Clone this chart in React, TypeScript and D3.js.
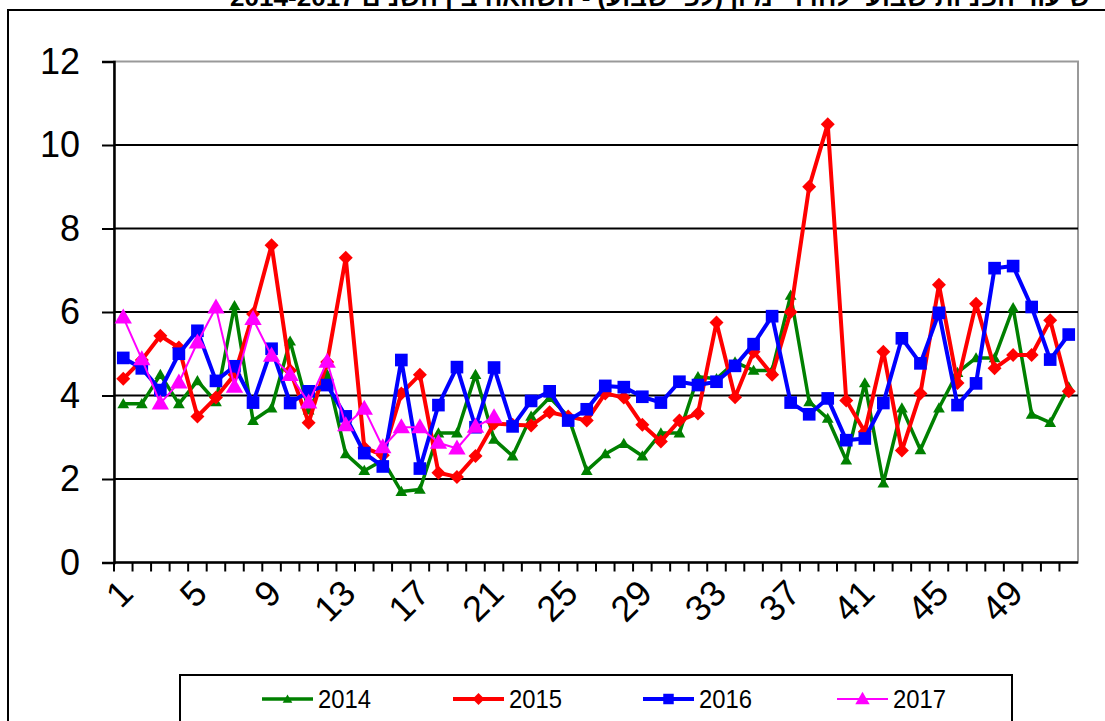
import React, { useEffect, useRef } from "react";
import * as d3 from "d3";

const weeks = d3.range(1, 53);
const yTicks = [0, 2, 4, 6, 8, 10, 12];
const xLabels = [1, 5, 9, 13, 17, 21, 25, 29, 33, 37, 41, 45, 49];

const y2014 = [3.8, 3.8, 4.5, 3.8, 4.35, 3.85, 6.15, 3.4, 3.7, 5.3, 3.65, 4.5, 2.6, 2.2, 2.45, 1.7, 1.75, 3.1, 3.1, 4.5, 2.95, 2.55, 3.5, 3.95, 3.5, 2.2, 2.6, 2.85, 2.55, 3.1, 3.1, 4.45, 4.4, 4.8, 4.6, 4.6, 6.4, 3.85, 3.45, 2.45, 4.3, 1.9, 3.7, 2.7, 3.7, 4.55, 4.9, 4.9, 6.1, 3.55, 3.35, 4.2];
const y2015 = [4.4, 4.85, 5.43, 5.15, 3.5, 3.95, 4.5, 5.95, 7.6, 4.6, 3.35, 4.8, 7.3, 2.75, 2.57, 4.05, 4.5, 2.15, 2.05, 2.55, 3.33, 3.3, 3.28, 3.6, 3.5, 3.4, 4.05, 3.95, 3.3, 2.9, 3.4, 3.57, 5.75, 3.96, 5.05, 4.5, 6.0, 9.0, 10.5, 3.88, 3.13, 5.05, 2.68, 4.05, 6.65, 4.3, 6.2, 4.65, 4.97, 4.97, 5.8, 4.1];
const y2016 = [4.9, 4.65, 4.13, 5.0, 5.55, 4.35, 4.7, 3.83, 5.12, 3.82, 4.1, 4.25, 3.5, 2.62, 2.3, 4.85, 2.25, 3.77, 4.68, 3.24, 4.67, 3.26, 3.87, 4.1, 3.4, 3.67, 4.23, 4.2, 3.97, 3.83, 4.33, 4.25, 4.33, 4.71, 5.23, 5.9, 3.83, 3.55, 3.93, 2.93, 2.97, 3.82, 5.37, 4.77, 5.98, 3.77, 4.29, 7.05, 7.1, 6.12, 4.86, 5.46];
const y2017 = [5.87, 4.87, 3.81, 4.31, 5.27, 6.11, 4.21, 5.83, 4.95, 4.49, 3.83, 4.81, 3.29, 3.68, 2.76, 3.24, 3.24, 2.87, 2.73, 3.25, 3.48];

const seriesNames = ["2014", "2015", "2016", "2017"];
const title = "שיעור הפניות שבועי לחדרי מיון (לפי שבוע) - השוואה בין השנים 2014-2017";

export default function App() {
  const ref = useRef<SVGSVGElement>(null);

  useEffect(() => {
    const svg = d3.select(ref.current);
    svg.selectAll("*").remove();
    const font = "Liberation Sans, Arial, sans-serif";

    const left = 114, right = 1078, top = 61.5, bottom = 562.5;

    const x = d3.scaleBand<number>().domain(weeks).range([left, right]);
    const cx = (w: number) => (x(w) as number) + x.bandwidth() / 2;
    const y = d3.scaleLinear().domain([0, 12]).range([bottom, top]);

    // title (cut off at the top of the picture)
    svg.append("text")
      .attr("x", 660).attr("y", 6)
      .attr("text-anchor", "middle")
      .attr("direction", "rtl")
      .attr("font-family", font).attr("font-weight", "bold").attr("font-size", 24)
      .attr("textLength", 860).attr("lengthAdjust", "spacingAndGlyphs")
      .text(title);

    // outer chart border
    svg.append("rect")
      .attr("x", 8).attr("y", 10).attr("width", 1200).attr("height", 900)
      .attr("fill", "none").attr("stroke", "#000").attr("stroke-width", 2);

    // plot area border
    svg.append("rect")
      .attr("x", left).attr("y", top).attr("width", right - left).attr("height", bottom - top)
      .attr("fill", "none").attr("stroke", "#999").attr("stroke-width", 2);

    // gridlines
    svg.append("g").selectAll("line")
      .data(yTicks.filter(t => t > 0 && t < 12))
      .join("line")
      .attr("x1", left).attr("x2", right)
      .attr("y1", d => y(d)).attr("y2", d => y(d))
      .attr("stroke", "#000").attr("stroke-width", 2);

    // y axis
    const yAxis = svg.append("g")
      .attr("transform", `translate(${left},0)`)
      .call(d3.axisLeft(y).tickValues(yTicks).tickSize(12).tickPadding(22).tickFormat(d3.format("d")));
    yAxis.select(".domain").attr("stroke", "#000").attr("stroke-width", 2.5);
    yAxis.selectAll(".tick line").attr("stroke", "#000").attr("stroke-width", 2);
    yAxis.selectAll("text").attr("font-family", font).attr("font-size", 36).attr("fill", "#000");

    // x axis
    svg.append("line")
      .attr("x1", left).attr("x2", right).attr("y1", bottom).attr("y2", bottom)
      .attr("stroke", "#000").attr("stroke-width", 2.5);
    svg.append("g").selectAll("line")
      .data(weeks)
      .join("line")
      .attr("x1", d => x(d) as number).attr("x2", d => x(d) as number)
      .attr("y1", bottom).attr("y2", bottom + 9)
      .attr("stroke", "#000").attr("stroke-width", 2);
    svg.append("g").selectAll("text")
      .data(xLabels)
      .join("text")
      .attr("transform", d => `translate(${cx(d) - 6},${bottom + 15}) rotate(-45)`)
      .attr("text-anchor", "end")
      .attr("dy", "0.7em")
      .attr("font-family", font).attr("font-size", 36).attr("fill", "#000")
      .text(d => d);

    const line = d3.line<number>()
      .x((_, i) => cx(weeks[i]))
      .y(d => y(d));

    const tri = (s: number) => d3.symbol(d3.symbolTriangle, s)();
    const sq = (s: number) => d3.symbol(d3.symbolSquare, s)();
    const dia = (s: number) => `M0,${-s}L${s},0L0,${s}L${-s},0Z`;

    const styles = [
      { data: y2014, color: "#008000", width: 3.5, marker: tri(60), dy: 1 },
      { data: y2015, color: "#FF0000", width: 4, marker: dia(7), dy: 0 },
      { data: y2016, color: "#0000FF", width: 4, marker: sq(160), dy: 0 },
      { data: y2017, color: "#FF00FF", width: 2, marker: tri(130), dy: 1 },
    ];

    styles.forEach(s => {
      const g = svg.append("g");
      g.append("path")
        .attr("d", line(s.data))
        .attr("fill", "none").attr("stroke", s.color).attr("stroke-width", s.width)
        .attr("stroke-linejoin", "round");
      g.selectAll("path.m")
        .data(s.data)
        .join("path")
        .attr("class", "m")
        .attr("transform", (d, i) => `translate(${cx(weeks[i])},${y(d) + s.dy})`)
        .attr("d", s.marker)
        .attr("fill", s.color);
    });

    // legend
    const leg = svg.append("g");
    leg.append("rect")
      .attr("x", 180).attr("y", 675).attr("width", 832).attr("height", 80)
      .attr("fill", "#fff").attr("stroke", "#000").attr("stroke-width", 2);
    const legX = [262, 453, 643, 837];
    const legMarkers = [tri(40), dia(6), sq(110), tri(90)];
    styles.forEach((s, i) => {
      const lx = legX[i];
      leg.append("line")
        .attr("x1", lx).attr("x2", lx + 51).attr("y1", 699).attr("y2", 699)
        .attr("stroke", s.color).attr("stroke-width", s.width);
      leg.append("path")
        .attr("transform", `translate(${lx + 25.5},${699 + s.dy})`)
        .attr("d", legMarkers[i]).attr("fill", s.color);
      leg.append("text")
        .attr("x", lx + 56).attr("y", 708)
        .attr("font-family", font).attr("font-size", 25)
        .attr("textLength", 53).attr("lengthAdjust", "spacingAndGlyphs")
        .text(seriesNames[i]);
    });
  }, []);

  return (
    <svg
      ref={ref}
      width={1105}
      height={721}
      style={{ position: "absolute", left: 0, top: 0, background: "#fff" }}
    />
  );
}
